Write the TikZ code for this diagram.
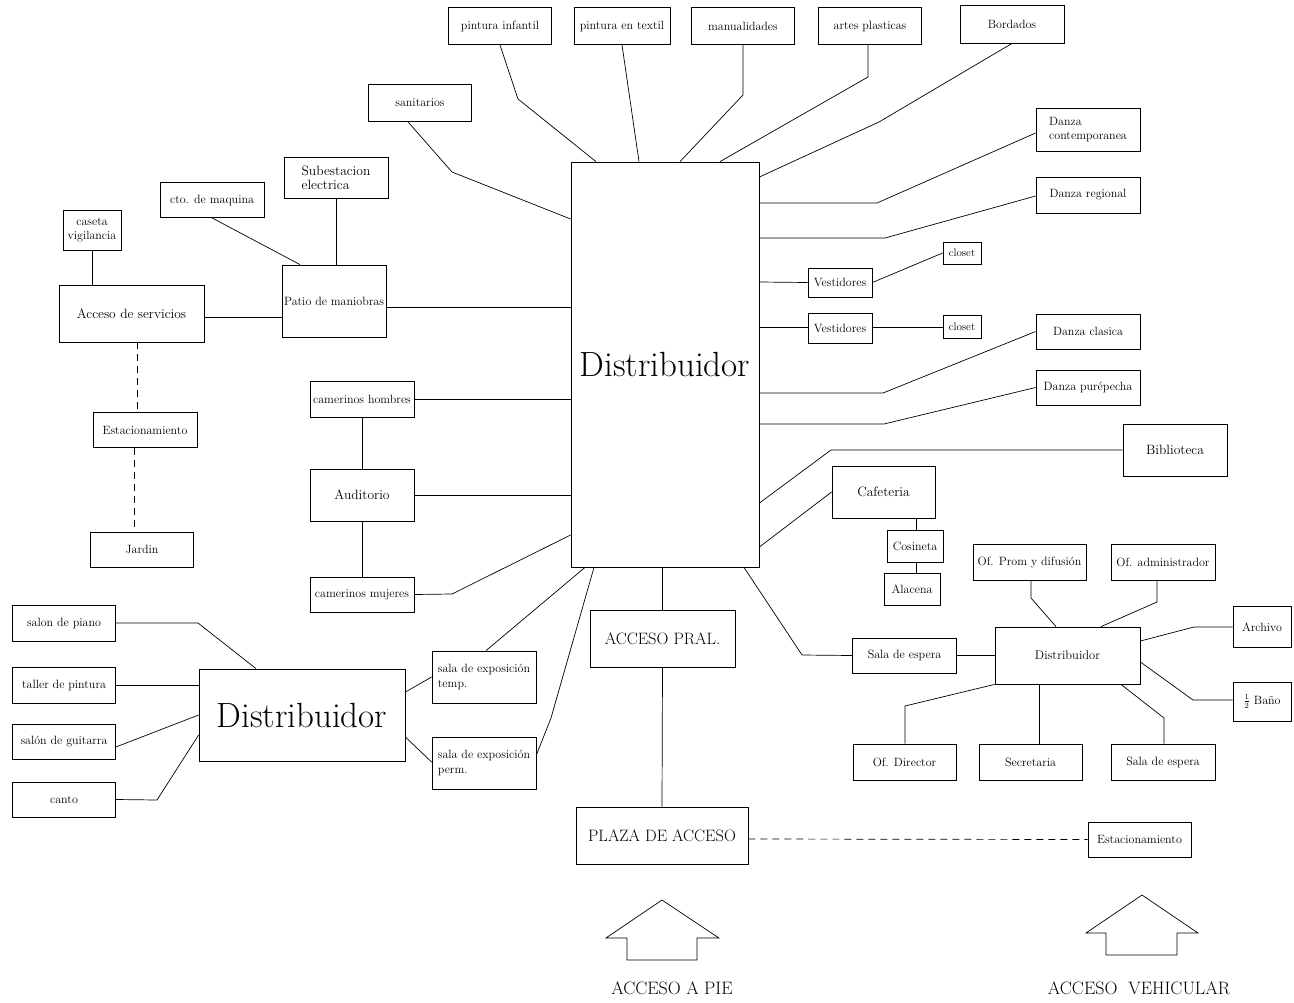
\documentclass[tikz,border=0pt]{standalone}
\usepackage{tikz}

\begin{document}
\begin{tikzpicture}[
    x=1pt, y=-1pt,
    box/.style={draw, line width=0.8pt, minimum width=104, minimum height=36,
                inner sep=1pt, font=\fontsize{12}{14.5}\selectfont, align=center},
    smallbox/.style={box, minimum width=38, minimum height=23,
                     font=\fontsize{11}{12}\selectfont},
    midtxt/.style={font=\fontsize{13.5}{16}\selectfont},
    bigtxt/.style={font=\fontsize{35}{40}\selectfont},
    captxt/.style={font=\fontsize{16.5}{19}\selectfont},
    link/.style={line width=0.7pt},
    dashlink/.style={link, dash pattern=on 7pt off 5pt},
  ]

  \useasboundingbox (0,0) rectangle (1294,1002);

  % central distributor
  \node[box, bigtxt, minimum width=188, minimum height=405] (main) at (665,364.5) {Distribuidor};

  % top row
  \node[box, minimum width=103, minimum height=37] (pinf) at (500,26) {pintura infantil};
  \node[box, minimum width=96, minimum height=37] (ptex) at (622,26) {pintura en textil};
  \node[box, minimum width=103, minimum height=37] (manu) at (743,26) {manualidades};
  \node[box, minimum width=103, minimum height=37] (artes) at (870,26) {artes plasticas};
  \node[box, minimum width=104, minimum height=38] (bord) at (1012,24) {Bordados};
  \node[box, minimum width=103, minimum height=37] (sanit) at (420,103) {sanitarios};

  % service side
  \node[box, midtxt, minimum height=41, align=left] (subest) at (336,178) {Subestacion\\[-2pt]electrica};
  \node[box, minimum height=35] (cto) at (212,200) {cto. de maquina};
  \node[box, minimum width=58, minimum height=40] (caseta) at (92,230) {caseta\\vigilancia};
  \node[box, midtxt, minimum width=145, minimum height=57] (acceso) at (131.5,313.5) {Acceso de servicios};
  \node[box, minimum height=72] (patio) at (334,301) {Patio de maniobras};
  \node[box, minimum height=35] (estL) at (145,430) {Estacionamiento};
  \node[box, minimum width=103, minimum height=35] (jardin) at (142,549.5) {Jardin};

  % auditorium
  \node[box] (camH) at (362,399) {camerinos hombres};
  \node[box, midtxt, minimum height=52] (audit) at (362,495) {Auditorio};
  \node[box, minimum height=35] (camM) at (362,594.5) {camerinos mujeres};

  % workshops
  \node[box, minimum width=103] (piano) at (64,623) {salon de piano};
  \node[box, minimum width=103] (taller) at (64,685) {taller de pintura};
  \node[box, minimum width=103, minimum height=35] (guitar) at (64,742) {salón de guitarra};
  \node[box, minimum width=103, minimum height=35] (canto) at (64,799.5) {canto};
  \node[box, bigtxt, minimum width=206, minimum height=92] (dist2) at (302,715) {Distribuidor};
  \node[box, minimum height=52, align=left] (temp) at (484,677) {sala de exposición\\temp.};
  \node[box, minimum height=52, align=left] (perm) at (484,763) {sala de exposición\\perm.};

  % main access
  \node[box, captxt, minimum width=145, minimum height=57] (pral) at (662.5,638.5) {ACCESO PRAL.};
  \node[box, captxt, minimum width=172, minimum height=57] (plaza) at (662,835.5) {PLAZA DE ACCESO};
  \node[box, minimum width=103, minimum height=35] (estR) at (1139.5,839.5) {Estacionamiento};

  % dance
  \node[box, minimum height=43, align=left] (dcont) at (1088,129.5) {Danza\\contemporanea};
  \node[box] (dreg) at (1088,195) {Danza regional};
  \node[box, minimum width=64, minimum height=29] (vest1) at (840,282.5) {Vestidores};
  \node[smallbox, minimum height=22] (clo1) at (962,253) {closet};
  \node[box, minimum width=64, minimum height=30] (vest2) at (840,328) {Vestidores};
  \node[smallbox] (clo2) at (962,326.5) {closet};
  \node[box, minimum height=35] (dclas) at (1088,331.5) {Danza clasica};
  \node[box, minimum height=35] (dpur) at (1088,387.5) {Danza purépecha};
  \node[box, midtxt, minimum height=52] (biblio) at (1175,450) {Biblioteca};

  % cafeteria
  \node[box, midtxt, minimum width=103, minimum height=52] (cafe) at (883.5,492) {Cafeteria};
  \node[box, minimum width=56, minimum height=32] (cosin) at (915,546) {Cosineta};
  \node[box, minimum width=56, minimum height=32] (alac) at (912,589) {Alacena};

  % offices
  \node[box, minimum height=35] (sala1) at (904.5,655.5) {Sala de espera};
  \node[box, minimum width=145, minimum height=57, font=\fontsize{12.5}{15}\selectfont] (dist3) at (1067.5,655.5) {Distribuidor};
  \node[box, minimum width=113] (prom) at (1029.5,562) {Of. Prom y difusión};
  \node[box] (admin) at (1163,562) {Of. administrador};
  \node[box, minimum width=58, minimum height=41] (archivo) at (1262,627) {Archivo};
  \node[box, minimum width=58, minimum height=39] (bano) at (1262,701.5) {$\frac{1}{2}$ Baño};
  \node[box, minimum width=103] (director) at (904.5,762) {Of. Director};
  \node[box, minimum width=103] (secre) at (1030.5,762) {Secretaria};
  \node[box] (sala2) at (1163,762) {Sala de espera};

  % access arrows
  \draw[link] (662,900) -- (719,938) -- (697,938) -- (697,960) -- (627,960)
    -- (627,938) -- (606,938) -- cycle;
  \draw[link] (1142,895) -- (1198,933) -- (1177,933) -- (1177,955) -- (1106,955)
    -- (1106,933) -- (1086,933) -- cycle;
  \node[font=\fontsize{18}{20}\selectfont] (pie) at (672,988) {ACCESO A PIE};
  \node[font=\fontsize{18}{20}\selectfont] (veh) at (1139,988) {ACCESO\ \ VEHICULAR};

  % top connectors
  \draw[link] (pinf.south) -- (518,99) -- (main.north -| 596,0);
  \draw[link] (ptex.south) -- (main.north -| 639,0);
  \draw[link] (manu.south) -- (743,95) -- (main.north -| 680,0);
  \draw[link] (artes.south -| 868,0) -- (868,77) -- (main.north -| 720,0);
  \draw[link] (bord.south) -- (879,122) -- (main.east |- 0,177);
  \draw[link] (sanit.south -| 408,0) -- (452,172) -- (main.west |- 0,219);

  % right connectors
  \draw[link] (main.east |- 0,203) -- (877,203) -- (dcont.west |- 0,133);
  \draw[link] (main.east |- 0,238) -- (885,238) -- (dreg.west |- 0,196);
  \draw[link] (main.east |- 0,282) -- (vest1.west);
  \draw[link] (vest1.east) -- (clo1.west);
  \draw[link] (main.east |- 0,327) -- (vest2.west |- 0,327);
  \draw[link] (vest2.east |- 0,327) -- (clo2.west |- 0,327);
  \draw[link] (main.east |- 0,393) -- (883,393) -- (dclas.west);
  \draw[link] (main.east |- 0,424) -- (884,424) -- (dpur.west);
  \draw[link] (main.east |- 0,503) -- (831,450) -- (biblio.west);
  \draw[link] (main.east |- 0,547) -- (cafe.west);
  \draw[link] (cafe.south -| 916,0) -- (cosin.north -| 916,0);
  \draw[link] (cosin.south -| 916,0) -- (alac.north -| 916,0);
  \draw[link] (main.south -| 744,0) -- (802,655) -- (sala1.west);
  \draw[link] (sala1.east) -- (dist3.west);
  \draw[link] (prom.south -| 1031,0) -- (1031,598) -- (dist3.north -| 1056,0);
  \draw[link] (admin.south -| 1157,0) -- (1157,602) -- (dist3.north -| 1101,0);
  \draw[link] (dist3.east |- 0,641) -- (1194,627) -- (archivo.west |- 0,627);
  \draw[link] (dist3.east |- 0,662) -- (1193,700) -- (bano.west |- 0,700);
  \draw[link] (dist3.south west) -- (905,706) -- (director.north -| 905,0);
  \draw[link] (dist3.south -| 1039,0) -- (secre.north -| 1039,0);
  \draw[link] (dist3.south -| 1121,0) -- (1164,718) -- (sala2.north -| 1164,0);

  % access axis
  \draw[link] (main.south -| pral.north) -- (pral.north);
  \draw[link] (pral.south) -- (plaza.north);
  \draw[dashlink] (plaza.east |- 0,839) -- (estR.west);

  % left connectors
  \draw[link] (patio.east |- 0,307) -- (main.west |- 0,307);
  \draw[link] (camH.east) -- (main.west |- camH.east);
  \draw[link] (audit.east) -- (main.west |- audit.east);
  \draw[link] (camM.east) -- (452,594) -- (main.west |- 0,535);
  \draw[link] (temp.north -| 486,0) -- (main.south -| 585,0);
  \draw[link] (perm.east |- 0,755) -- (551,718) -- (main.south -| 594,0);
  \draw[link] (caseta.south) -- (acceso.north -| caseta.south);
  \draw[link] (acceso.east |- 0,317) -- (patio.west |- 0,317);
  \draw[link] (cto.south) -- (patio.north -| 300,0);
  \draw[link] (subest.south) -- (patio.north -| subest.south);
  \draw[dashlink] (acceso.south -| 137,0) -- (estL.north -| 137,0);
  \draw[dashlink] (estL.south -| 134,0) -- (jardin.north -| 134,0);
  \draw[link] (camH.south) -- (audit.north);
  \draw[link] (audit.south) -- (camM.north);

  % workshops
  \draw[link] (piano.east) -- (198,623) -- (dist2.north -| 256,0);
  \draw[link] (taller.east) -- (dist2.west |- taller.east);
  \draw[link] (guitar.east |- 0,747) -- (dist2.west |- 0,715);
  \draw[link] (canto.east) -- (157,800) -- (dist2.west |- 0,735);
  \draw[link] (dist2.east |- 0,692) -- (temp.west |- 0,677);
  \draw[link] (dist2.east |- 0,737) -- (perm.west |- 0,762);

\end{tikzpicture}
\end{document}
